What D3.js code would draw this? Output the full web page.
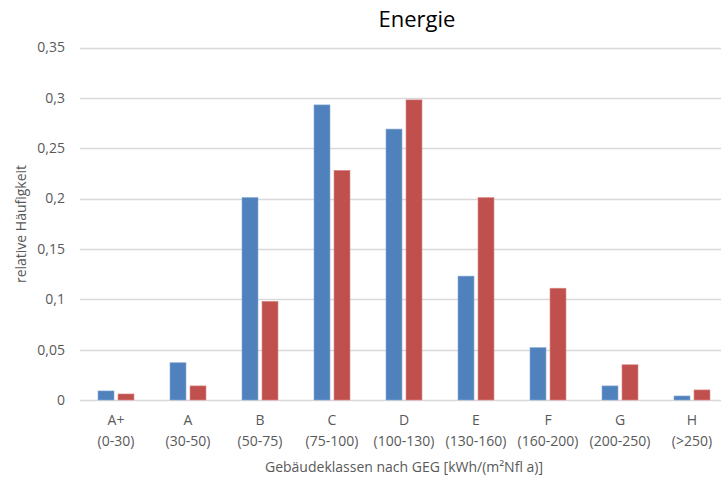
<!DOCTYPE html>
<html><head><meta charset="utf-8">
<script src="https://cdn.jsdelivr.net/npm/d3@7"></script>
<style>body{margin:0;background:#fff}svg{display:block}text{font-family:"Open Sans",sans-serif}</style>
</head><body><svg id="c" width="721" height="477"></svg>
<script>
const categories = ["A+","A","B","C","D","E","F","G","H"];
const ranges = ["(0-30)","(30-50)","(50-75)","(75-100)","(100-130)","(130-160)","(160-200)","(200-250)","(>250)"];
const seriesBlue = [0.009, 0.037, 0.201, 0.293, 0.269, 0.123, 0.052, 0.014, 0.004];
const seriesRed  = [0.006, 0.014, 0.098, 0.228, 0.298, 0.201, 0.111, 0.035, 0.010];
const yTicks = [0, 0.05, 0.1, 0.15, 0.2, 0.25, 0.3, 0.35];
const yTickLabels = ["0","0,05","0,1","0,15","0,2","0,25","0,3","0,35"];

const svg = d3.select("#c");
const x = d3.scaleBand().domain(categories).range([80, 728]).padding(0);
const y = d3.scaleLinear().domain([0, 0.35]).range([400, 47.5]);
const series = d3.scaleBand().domain(["b","r"]).range([0, 36]).paddingInner(0.2);
const bw = x.bandwidth();

// gridlines
svg.append("g").selectAll("line").data(yTicks).join("line")
  .attr("x1", 80).attr("x2", 721)
  .attr("y1", d => Math.round(y(d)) + 0.5).attr("y2", d => Math.round(y(d)) + 0.5)
  .attr("stroke", "#d9d9d9").attr("stroke-width", 1.3);

// y tick labels
svg.append("g").selectAll("text").data(yTicks).join("text")
  .attr("x", 65).attr("y", d => y(d)).attr("dy", "0.35em")
  .attr("text-anchor", "end").attr("fill", "#595959").attr("font-size", 14)
  .text((d, i) => yTickLabels[i]);

const data = categories.map((c, i) => ({c, b: seriesBlue[i], r: seriesRed[i]}));
const off = (bw - 36) / 2;
const g = svg.append("g");
g.selectAll("rect.b").data(data).join("rect").attr("class","b")
  .attr("x", d => x(d.c) + off + series("b"))
  .attr("width", series.bandwidth())
  .attr("y", d => y(d.b)).attr("height", d => y(0) - y(d.b))
  .attr("fill", "#4f81bd").attr("stroke", "#8aaad4").attr("stroke-width", 0.6);
g.selectAll("rect.r").data(data).join("rect").attr("class","r")
  .attr("x", d => x(d.c) + off + series("r"))
  .attr("width", series.bandwidth())
  .attr("y", d => y(d.r)).attr("height", d => y(0) - y(d.r))
  .attr("fill", "#c0504d").attr("stroke", "#d98d8b").attr("stroke-width", 0.6);

// x labels
const xl = svg.append("g").selectAll("text").data(categories).join("text")
  .attr("text-anchor", "middle").attr("fill", "#595959").attr("font-size", 14);
xl.append("tspan").attr("x", d => x(d) + bw/2).attr("y", 425).text(d => d);
xl.append("tspan").attr("x", d => x(d) + bw/2).attr("y", 446).text((d, i) => ranges[i]);

// axis titles
svg.append("text").attr("x", 404).attr("y", 472).attr("text-anchor", "middle")
  .attr("fill", "#595959").attr("font-size", 14)
  .text("Gebäudeklassen nach GEG [kWh/(m²Nfl a)]");
svg.append("text").attr("transform", "translate(26,224) rotate(-90)")
  .attr("text-anchor", "middle").attr("fill", "#595959").attr("font-size", 14)
  .text("relative Häufigkeit");

// title
svg.append("text").attr("x", 417).attr("y", 27).attr("text-anchor", "middle")
  .attr("fill", "#000").attr("font-size", 22).text("Energie");
</script></body></html>
